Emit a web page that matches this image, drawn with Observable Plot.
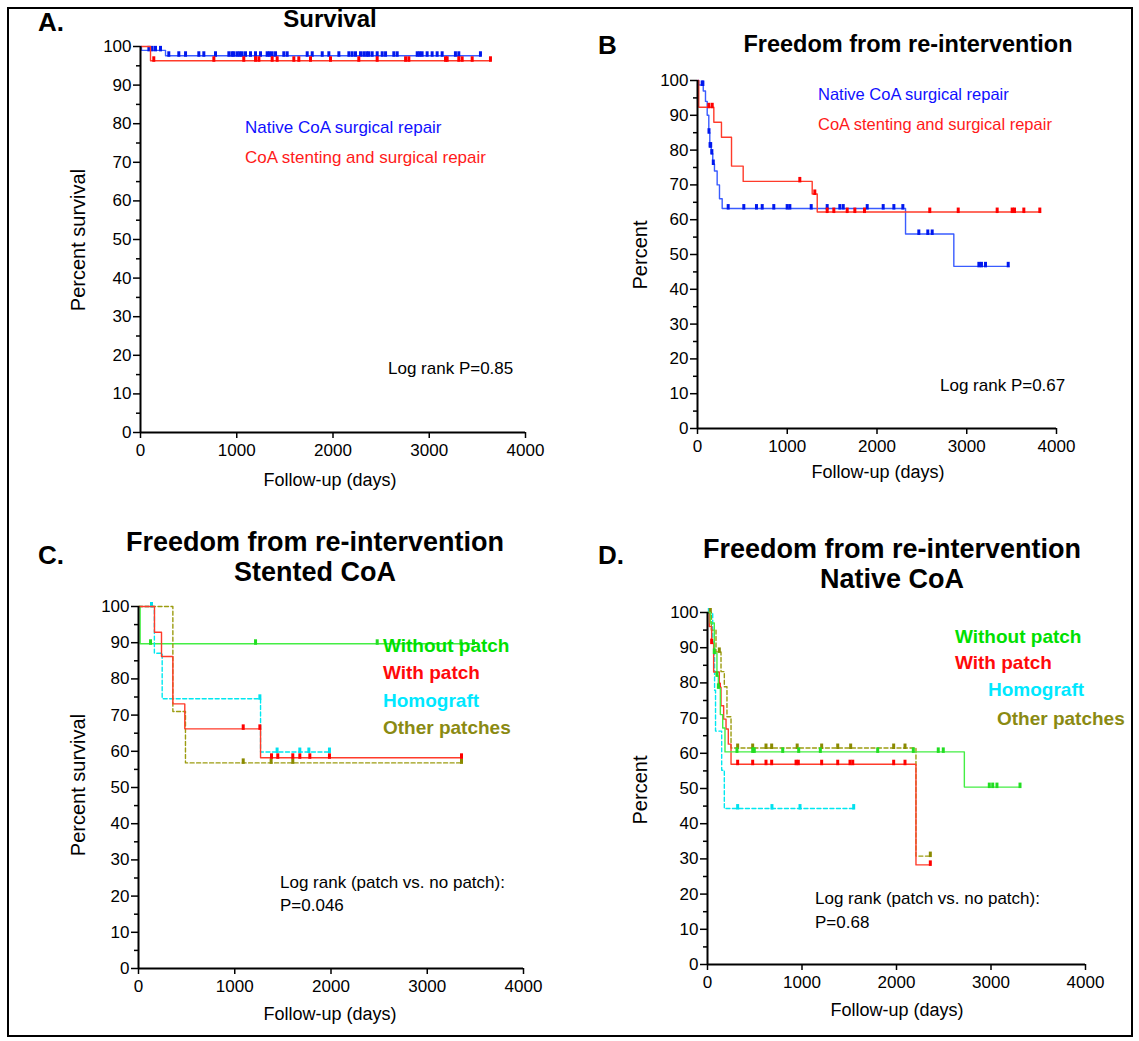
<!DOCTYPE html>
<html><head><meta charset="utf-8">
<script src="https://cdn.jsdelivr.net/npm/d3@7"></script>
<script src="https://cdn.jsdelivr.net/npm/@observablehq/plot@0.6"></script>
<style>
body{margin:0;background:#fff;font-family:"Liberation Sans",Arial,sans-serif;}
#fig{position:relative;width:1139px;height:1041px;overflow:hidden;background:#fff;}
#frame{position:absolute;left:7px;top:7px;width:1122px;height:1026px;border:2px solid #000;}
.t{position:absolute;white-space:nowrap;line-height:1;}
.b{font-weight:bold;}
.panel{position:absolute;}
</style></head><body><div id="fig"><div id="frame"></div></div>
<script>
// ---------- DATA (days, percent) ----------
const xTicks = [0, 1000, 2000, 3000, 4000];
const yTicks = [0, 10, 20, 30, 40, 50, 60, 70, 80, 90, 100];
const yMinor = [5, 15, 25, 35, 45, 55, 65, 75, 85, 95];

// Panel A: Survival
const aNativeSteps = [[0,100],[10,99.0],[260,97.6],[3532,97.6]];
const aNativeCensor = [87,121,156,208,294,398,468,606,658,779,918,950,970,1004,1030,1056,1091,1143,1195,1247,1316,1340,1368,1403,1489,1524,1732,1784,1888,1957,2061,2165,2199,2234,2286,2320,2350,2372,2407,2459,2511,2546,2632,2667,2875,2900,2926,2978,3030,3082,3134,3272,3307,3532];
const aStentSteps = [[0,100],[104,96.3],[3636,96.3]];
const aStentCensor = [138,762,1073,1195,1230,1368,1420,1593,1645,1766,1974,2268,2459,2754,2788,3169,3186,3307,3342,3446,3636];

// Panel B: Freedom from re-intervention
const bNativeSteps = [[0,100],[14,98.7],[64,97],[89,94],[108,90],[126,85],[137,81],[153,79],[170,76],[189,74],[219,70],[245,66],[275,63.2],[2318,55.9],[2856,46.6],[3469,46.6]];
const bNativeCensor = [52,60,128,140,147,160,176,342,516,657,721,850,999,1029,1267,1445,1586,1624,1891,2069,2188,2288,2466,2566,2615,3135,3164,3209,3462];
const bStentSteps = [[0,100],[14,92.3],[182,88],[267,83.7],[379,75.4],[509,71],[1278,67.4],[1334,62.2],[3822,62.2]];
const bStentCensor = [126,164,1140,1307,1445,1519,1668,1753,1861,2588,2905,3339,3506,3532,3636,3814];

// Panel C: Stented CoA
const cWithoutSteps = [[0,100],[17,89.7],[3480,89.7]];
const cWithoutCensor = [125,1216,2480,3350,3480];
const cWithSteps = [[0,100],[166,92.9],[239,86.2],[357,73.1],[481,66.2],[1268,58.2],[3363,58.2]];
const cWithCensor = [1088,1261,1382,1447,1603,1676,1780,1984,3356];
const cHomoSteps = [[0,100],[165,87.1],[246,74.5],[1268,59.8],[1984,59.8]];
const cHomoCensor = [135,1261,1440,1676,1770,1984];
const cOtherSteps = [[0,100],[357,71.0],[488,56.8],[3363,56.8]];
const cOtherCensor = [1088,1378,1603,3356];

// Panel D: Native CoA
const dWithoutSteps = [[0,100],[30,97],[72,88.5],[100,82],[115,78.6],[136,71],[161,67.2],[185,60.4],[2718,50.4],[3307,50.4]];
const dWithoutCensor = [72,100,115,312,478,495,796,965,1194,1801,2178,2442,2495,2982,3018,3063,3307];
const dWithSteps = [[0,100],[19,96],[44,91.3],[65,83.1],[125,78.8],[143,73.5],[171,69.7],[196,66.9],[220,62.6],[249,56.9],[2206,28.3],[2358,28.3]];
const dWithCensor = [44,125,319,478,619,679,937,961,1208,1378,1508,1537,1970,2090,2358];
const dHomoSteps = [[0,100],[55,91.6],[75,77.9],[85,66.3],[150,55.2],[178,44.3],[1547,44.3]];
const dHomoCensor = [19,319,682,979,1547];
const dOtherSteps = [[0,100],[40,95],[90,88.8],[143,83.2],[178,78.9],[206,70.4],[249,61.5],[2206,30.8],[2358,30.8]];
const dOtherCensor = [30,125,319,478,619,679,949,1208,1378,1515,1970,2090,2358];

// ---------- STYLE ----------
const BLUE = {line:"#3a5cff", mark:"#0018ee"};
const RED = {line:"#ff3b2a", mark:"#ff0000"};
const GREEN = {line:"#44ee44", mark:"#22dd22"};
const CYAN = {line:"#00e8f0", mark:"#00e0ee"};
const OLIVE = {line:"#9c9c10", mark:"#8a8a00"};

const tickSym = {draw(ctx){ctx.moveTo(-1.5,-4.5);ctx.lineTo(1.5,-4.5);ctx.lineTo(1.5,1);ctx.lineTo(-1.5,1);ctx.closePath();}};

function stepValue(steps, t){ let v = steps[0][1]; for (const [tt, vv] of steps){ if (tt <= t) v = vv; else break; } return v; }

function panel(cfg, series){
  const mL = 80, mT = 20, mR = 30, mB = 45;
  const pw = cfg.x4000 - cfg.x0, ph = cfg.y0 - cfg.y100;
  const marks = [];
  for (const s of series){
    marks.push(Plot.line(s.steps, {x: d=>d[0], y: d=>d[1], curve:"step-after", stroke:s.c.line, strokeWidth:1.4, strokeDasharray:s.dash ? "4,2.5" : null}));
    marks.push(Plot.dot(s.censor, {x: d=>d, y: d=>stepValue(s.steps, d), symbol: tickSym, fill:s.c.mark, stroke:"none", r:2}));
  }
  marks.push(Plot.axisY({ticks: yMinor, tickSize:4, text:null, label:null, strokeWidth:1.5}));
  marks.push(Plot.axisY({ticks: yTicks, tickSize:7, tickPadding:2, label:null, fontSize:17, strokeWidth:1.5, tickFormat:"d"}));
  marks.push(Plot.axisX({ticks: xTicks, tickSize:6, tickPadding:5, label:null, fontSize:17, strokeWidth:1.5, tickFormat:"d"}));
  marks.push(Plot.ruleX([0], {y1:0, y2:100, strokeWidth:2}));
  marks.push(Plot.ruleY([0], {x1:0, x2:4000, strokeWidth:2.2}));
  const svg = Plot.plot({
    width: mL + pw + mR, height: mT + ph + mB,
    marginLeft: mL, marginTop: mT, marginRight: mR, marginBottom: mB,
    x: {domain:[0,4000]}, y: {domain:[0,100]},
    style: {fontFamily:'"Liberation Sans", Arial, sans-serif', fontSize:"17px", color:"#000", background:"transparent", overflow:"visible"},
    marks
  });
  svg.classList.add("panel");
  svg.style.left = (cfg.x0 - mL) + "px";
  svg.style.top = (cfg.y100 - mT) + "px";
  document.getElementById("fig").appendChild(svg);
}

panel({x0:140, x4000:525, y100:46, y0:432}, [
  {steps:aNativeSteps, censor:aNativeCensor, c:BLUE},
  {steps:aStentSteps, censor:aStentCensor, c:RED}
]);
panel({x0:697, x4000:1056, y100:80, y0:428}, [
  {steps:bNativeSteps, censor:bNativeCensor, c:BLUE},
  {steps:bStentSteps, censor:bStentCensor, c:RED}
]);
panel({x0:138, x4000:523, y100:606, y0:968}, [
  {steps:cWithoutSteps, censor:cWithoutCensor, c:GREEN},
  {steps:cHomoSteps, censor:cHomoCensor, c:CYAN, dash:true},
  {steps:cOtherSteps, censor:cOtherCensor, c:OLIVE, dash:true},
  {steps:cWithSteps, censor:cWithCensor, c:RED}
]);
panel({x0:706.5, x4000:1084.5, y100:611.7, y0:963.7}, [
  {steps:dHomoSteps, censor:dHomoCensor, c:CYAN, dash:true},
  {steps:dOtherSteps, censor:dOtherCensor, c:OLIVE, dash:true},
  {steps:dWithSteps, censor:dWithCensor, c:RED},
  {steps:dWithoutSteps, censor:dWithoutCensor, c:GREEN}
]);

// ---------- TEXT ----------
const texts = [
  // [text, x, cy, size, bold, color, anchor, rotate]
  ["A.", 38, 22, 26, true, "#000", "start"],
  ["Survival", 330, 19, 24, true, "#000", "middle"],
  ["Native CoA surgical repair", 245, 127, 17, false, "#1010ff", "start"],
  ["CoA stenting and surgical repair", 245, 157, 17, false, "#ff1a1a", "start"],
  ["Log rank P=0.85", 388, 368, 17, false, "#000", "start"],
  ["Percent survival", 78, 240, 20, false, "#000", "middle", true],
  ["Follow-up (days)", 330, 480, 18, false, "#000", "middle"],

  ["B", 598, 45, 26, true, "#000", "start"],
  ["Freedom from re-intervention", 908, 45, 23.5, true, "#000", "middle"],
  ["Native CoA surgical repair", 818, 94, 16.5, false, "#1010ff", "start"],
  ["CoA stenting and surgical repair", 818, 124, 16.5, false, "#ff1a1a", "start"],
  ["Log rank P=0.67", 940, 385, 17, false, "#000", "start"],
  ["Percent", 640, 255, 20, false, "#000", "middle", true],
  ["Follow-up (days)", 878, 472, 18, false, "#000", "middle"],

  ["C.", 38, 555, 26, true, "#000", "start"],
  ["Freedom from re-intervention", 315, 542, 27, true, "#000", "middle"],
  ["Stented CoA", 315, 572, 27, true, "#000", "middle"],
  ["Without patch", 383, 645, 19, true, "#00e000", "start"],
  ["With patch", 383, 672, 19, true, "#ff0a0a", "start"],
  ["Homograft", 383, 700, 19, true, "#00e8ff", "start"],
  ["Other patches", 383, 727, 19, true, "#8a8a12", "start"],
  ["Log rank (patch vs. no patch):", 280, 882, 17, false, "#000", "start"],
  ["P=0.046", 280, 905, 17, false, "#000", "start"],
  ["Percent survival", 78, 785, 20, false, "#000", "middle", true],
  ["Follow-up (days)", 330, 1014, 18, false, "#000", "middle"],

  ["D.", 598, 555, 26, true, "#000", "start"],
  ["Freedom from re-intervention", 892, 549, 27, true, "#000", "middle"],
  ["Native CoA", 892, 579, 27, true, "#000", "middle"],
  ["Without patch", 955, 636, 19, true, "#00e000", "start"],
  ["With patch", 955, 662, 19, true, "#ff0a0a", "start"],
  ["Homograft", 988, 689, 19, true, "#00e8ff", "start"],
  ["Other patches", 997, 718, 19, true, "#8a8a12", "start"],
  ["Log rank (patch vs. no patch):", 815, 898, 17, false, "#000", "start"],
  ["P=0.68", 815, 922, 17, false, "#000", "start"],
  ["Percent", 640, 790, 20, false, "#000", "middle", true],
  ["Follow-up (days)", 897, 1010, 18, false, "#000", "middle"]
];
const fig = document.getElementById("fig");
for (const [s, x, cy, size, bold, color, anchor, rot] of texts){
  const el = document.createElement("div");
  el.className = "t" + (bold ? " b" : "");
  el.textContent = s;
  el.style.fontSize = size + "px";
  el.style.color = color;
  el.style.left = x + "px";
  el.style.top = (cy - size * 0.5) + "px";
  let tr = "";
  if (anchor === "middle") tr += "translateX(-50%) ";
  if (rot) { tr = "translate(-50%,0) rotate(-90deg)"; el.style.transformOrigin = "50% 50%"; }
  el.style.transform = tr;
  fig.appendChild(el);
}
</script></body></html>
